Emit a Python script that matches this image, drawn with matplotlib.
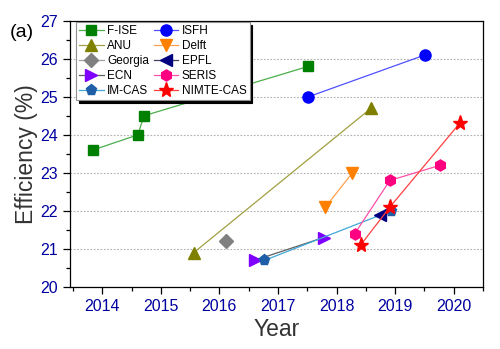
import matplotlib.pyplot as plt
from matplotlib.ticker import MultipleLocator

plt.rcParams['font.family'] = ['Liberation Sans', 'DejaVu Sans']

# record efficiencies by group: (year, efficiency %)
fise_x = [2013.84, 2014.61, 2014.71, 2017.52]
fise_y = [23.6, 24.0, 24.5, 25.8]
anu_x = [2015.56, 2018.59]
anu_y = [20.9, 24.7]
georgia_x = [2016.12]
georgia_y = [21.2]
ecn_x = [2016.60, 2017.78]
ecn_y = [20.7, 21.3]
imcas_x = [2016.77, 2018.93]
imcas_y = [20.7, 22.0]
isfh_x = [2017.52, 2019.51]
isfh_y = [25.0, 26.1]
delft_x = [2017.81, 2018.27]
delft_y = [22.1, 23.0]
epfl_x = [2018.75]
epfl_y = [21.9]
seris_x = [2018.31, 2018.91, 2019.77]
seris_y = [21.4, 22.8, 23.2]
nimte_x = [2018.41, 2018.91, 2020.10]
nimte_y = [21.1, 22.1, 24.3]

series = [
    ('F-ISE', fise_x, fise_y, 's', '#008000', '#4cae4c', 7),
    ('ANU', anu_x, anu_y, '^', '#808000', '#a0a040', 8),
    ('Georgia', georgia_x, georgia_y, 'D', '#808080', '#a0a0a0', 7),
    ('ECN', ecn_x, ecn_y, '>', '#8000ff', '#606060', 8),
    ('IM-CAS', imcas_x, imcas_y, 'p', '#1f5fa8', '#3fa8d8', 8),
    ('ISFH', isfh_x, isfh_y, 'o', '#0000ff', '#5050ff', 8),
    ('Delft', delft_x, delft_y, 'v', '#ff8000', '#ffa050', 8),
    ('EPFL', epfl_x, epfl_y, '<', '#000080', '#404060', 8),
    ('SERIS', seris_x, seris_y, 'h', '#ff0080', '#ff50a8', 8),
    ('NIMTE-CAS', nimte_x, nimte_y, '*', '#ff0000', '#ff4040', 11),
]

fig = plt.figure(figsize=(5, 3.49), dpi=100)
ax = fig.add_axes([0.14, 0.1777, 0.826, 0.763])

for name, xs, ys, mk, mc, lc, ms in series:
    ax.plot(xs, ys, color=lc, lw=0.9, marker=mk, ms=ms,
            mfc=mc, mec=mc, label=name)

ax.set_xlim(2013.45, 2020.5)
ax.set_ylim(20, 27)
ax.xaxis.set_major_locator(MultipleLocator(1))
ax.xaxis.set_minor_locator(MultipleLocator(0.5))
ax.yaxis.set_major_locator(MultipleLocator(1))
ax.yaxis.set_minor_locator(MultipleLocator(0.5))
ax.tick_params(which='both', direction='out', top=False, right=False,
               labelcolor='#0000a0', labelsize=11.5)
ax.tick_params(which='major', length=5, width=0.9)
ax.tick_params(which='minor', length=3, width=0.9)
ax.grid(axis='y', which='major', ls=(0, (1.5, 1.5)), color='#b0b0b0', lw=0.8)
for sp in ax.spines.values():
    sp.set_linewidth(0.9)

ax.set_xlabel('Year', fontsize=16.5, color='#333333', labelpad=3)
ax.set_ylabel('Efficiency (%)', fontsize=16.5, color='#333333', labelpad=2)

leg = ax.legend(ncol=2, loc='upper left', bbox_to_anchor=(0.014, 0.995),
                borderaxespad=0, fontsize=8.5, frameon=True,
                fancybox=False, shadow={'color': 'black', 'alpha': 1},
                edgecolor='#909090', borderpad=0.25, labelspacing=0.25,
                handlelength=2.1, handletextpad=0.3, columnspacing=0.4)
leg.get_frame().set_linewidth(0.8)

fig.text(0.02, 0.895, '(a)', fontsize=14)

fig.savefig('out.png', dpi=100)
